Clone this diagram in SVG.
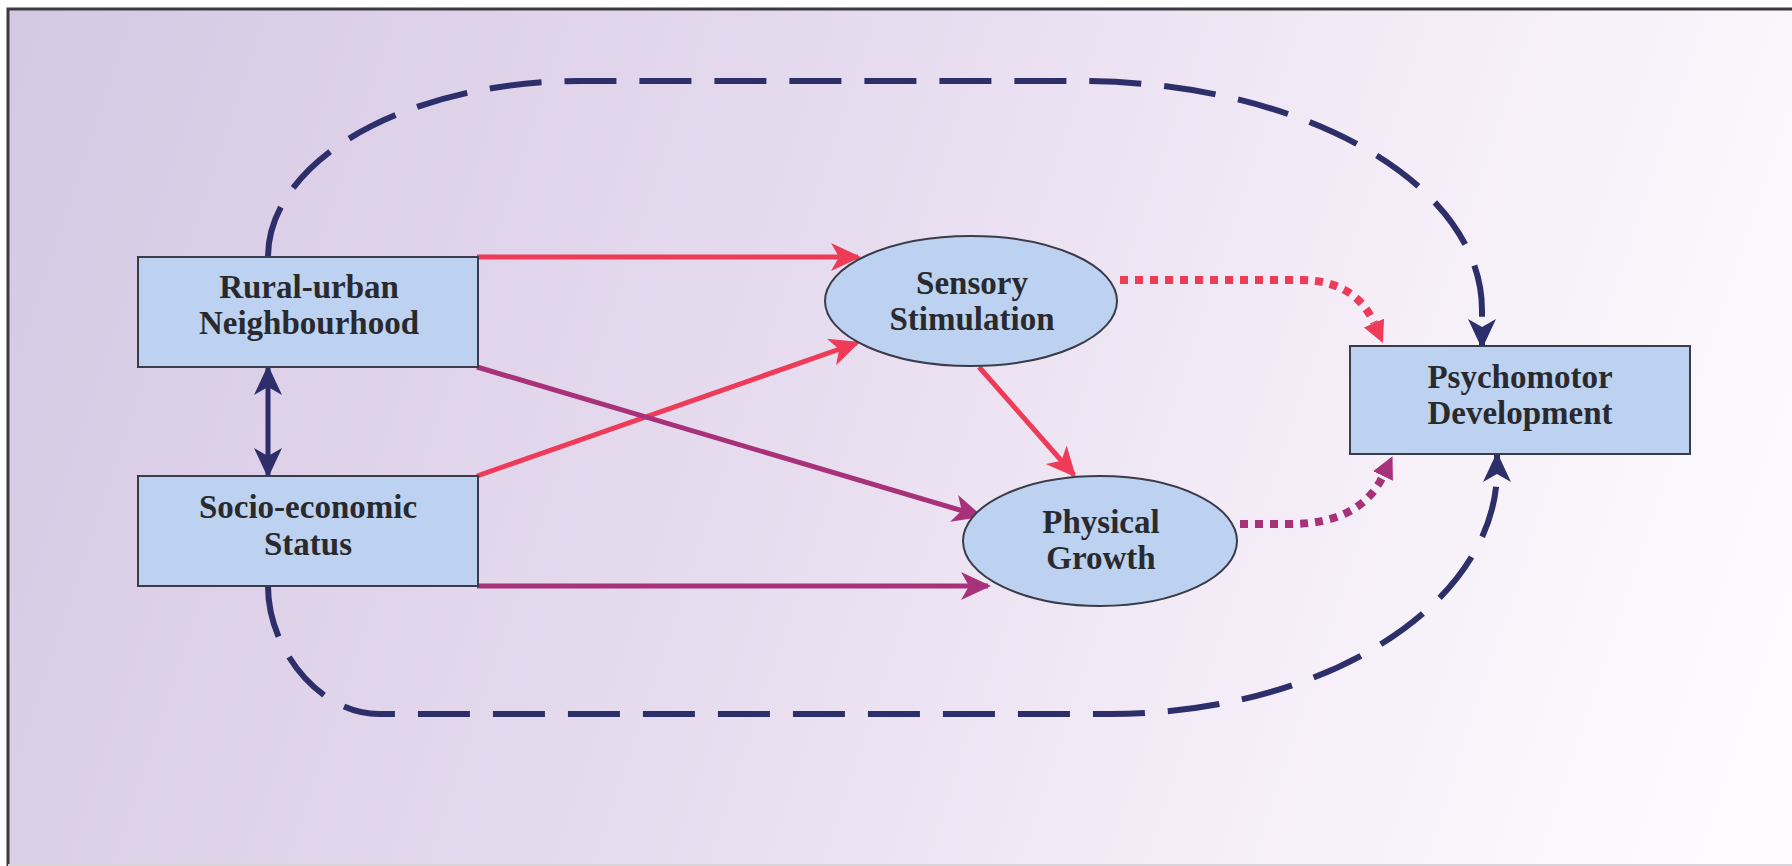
<svg xmlns="http://www.w3.org/2000/svg" width="1792" height="866" viewBox="0 0 1792 866">
  <defs>
    <linearGradient id="bg" gradientUnits="userSpaceOnUse" x1="0" y1="0" x2="1792" y2="600">
      <stop offset="0" stop-color="#d5c8e3"/>
      <stop offset="0.45" stop-color="#e7dbef"/>
      <stop offset="0.75" stop-color="#f5eef8"/>
      <stop offset="1" stop-color="#fdfbfd"/>
    </linearGradient>
    <marker id="aNavy" markerUnits="userSpaceOnUse" viewBox="0 0 30 30" markerWidth="30" markerHeight="30" refX="27" refY="15" orient="auto-start-reverse">
      <path d="M0,1 L30,15 L0,29 L8,15 Z" fill="#2d2f6b"/>
    </marker>
    <marker id="aRed" markerUnits="userSpaceOnUse" viewBox="0 0 30 30" markerWidth="30" markerHeight="30" refX="27" refY="15" orient="auto">
      <path d="M0,1 L30,15 L0,29 L8,15 Z" fill="#ee3b58"/>
    </marker>
    <marker id="aMag" markerUnits="userSpaceOnUse" viewBox="0 0 30 30" markerWidth="30" markerHeight="30" refX="27" refY="15" orient="auto">
      <path d="M0,1 L30,15 L0,29 L8,15 Z" fill="#a8327a"/>
    </marker>
    <marker id="tRed" markerUnits="userSpaceOnUse" viewBox="0 0 22 22" markerWidth="22" markerHeight="22" refX="0" refY="11" orient="auto">
      <path d="M0,0 L22,11 L0,22 Z" fill="#ee3b58"/>
    </marker>
    <marker id="tMag" markerUnits="userSpaceOnUse" viewBox="0 0 22 22" markerWidth="22" markerHeight="22" refX="0" refY="11" orient="auto">
      <path d="M0,0 L22,11 L0,22 Z" fill="#a8327a"/>
    </marker>
  </defs>
  <style>
    .node { fill: #bcd2f0; stroke: #3b3b4a; stroke-width: 2; }
    .lbl { font-family: "Liberation Serif", "Times New Roman", serif; font-weight: bold; font-size: 33px; fill: #2a2a2e; text-anchor: middle; }
    .dash { fill: none; stroke: #2d2f6b; stroke-width: 6; stroke-dasharray: 52 23; }
    .navy { fill: none; stroke: #2d2f6b; stroke-width: 5; }
    .red { fill: none; stroke: #ee3b58; stroke-width: 5; }
    .mag { fill: none; stroke: #a8327a; stroke-width: 5; }
    .dotr { fill: none; stroke: #ee3b58; stroke-width: 8; stroke-dasharray: 8 7; }
    .dotm { fill: none; stroke: #a8327a; stroke-width: 8; stroke-dasharray: 8 7; }
  </style>
  <rect x="0" y="0" width="1792" height="866" fill="#ffffff"/>
  <rect x="8" y="9" width="1784" height="857" fill="url(#bg)"/>
  <path d="M8,866 V9 H1792" fill="none" stroke="#3a3a40" stroke-width="3"/>
  <line x1="8" y1="865" x2="1792" y2="865" stroke="#d8d4dc" stroke-width="2"/>

  <g id="connectors">
    <path class="dash" d="M268,257 A312,176 0 0 1 580,81 H1080 A402,229 0 0 1 1482,310 V346" marker-end="url(#aNavy)"/>
    <path class="dash" d="M268,586 C268,650 320,714 379,714 H1110 A387,244 0 0 0 1497,470 V455" marker-end="url(#aNavy)"/>
    <line class="navy" x1="268" y1="368" x2="268" y2="475" marker-start="url(#aNavy)" marker-end="url(#aNavy)"/>
    <line class="red" x1="477" y1="257" x2="858" y2="257" marker-end="url(#aRed)"/>
    <line class="red" x1="477" y1="476" x2="857" y2="343" marker-end="url(#aRed)"/>
    <line class="mag" x1="477" y1="367" x2="980" y2="516" marker-end="url(#aMag)"/>
    <line class="mag" x1="477" y1="586" x2="988" y2="586" marker-end="url(#aMag)"/>
    <line class="red" x1="979" y1="367" x2="1074" y2="475" marker-end="url(#aRed)"/>
    <path class="dotr" d="M1120,280 H1300 Q1355,280 1374,323" marker-end="url(#tRed)"/>
    <path class="dotm" d="M1240,524 H1290 Q1360,524 1383,476" marker-end="url(#tMag)"/>
  </g>

  <g id="rural">
    <rect class="node" x="138" y="257" width="340" height="110"/>
    <text class="lbl" x="309" y="298">Rural-urban</text>
    <text class="lbl" x="309" y="334">Neighbourhood</text>
  </g>
  <g id="socio">
    <rect class="node" x="138" y="476" width="340" height="110"/>
    <text class="lbl" x="308" y="518">Socio-economic</text>
    <text class="lbl" x="308" y="555">Status</text>
  </g>
  <g id="sensory">
    <ellipse class="node" cx="971" cy="301" rx="146" ry="65"/>
    <text class="lbl" x="972" y="294">Sensory</text>
    <text class="lbl" x="972" y="330">Stimulation</text>
  </g>
  <g id="physical">
    <ellipse class="node" cx="1100" cy="541" rx="137" ry="65"/>
    <text class="lbl" x="1101" y="533">Physical</text>
    <text class="lbl" x="1101" y="569">Growth</text>
  </g>
  <g id="psychomotor">
    <rect class="node" x="1350" y="346" width="340" height="108"/>
    <text class="lbl" x="1520" y="388">Psychomotor</text>
    <text class="lbl" x="1520" y="424">Development</text>
  </g>
</svg>
